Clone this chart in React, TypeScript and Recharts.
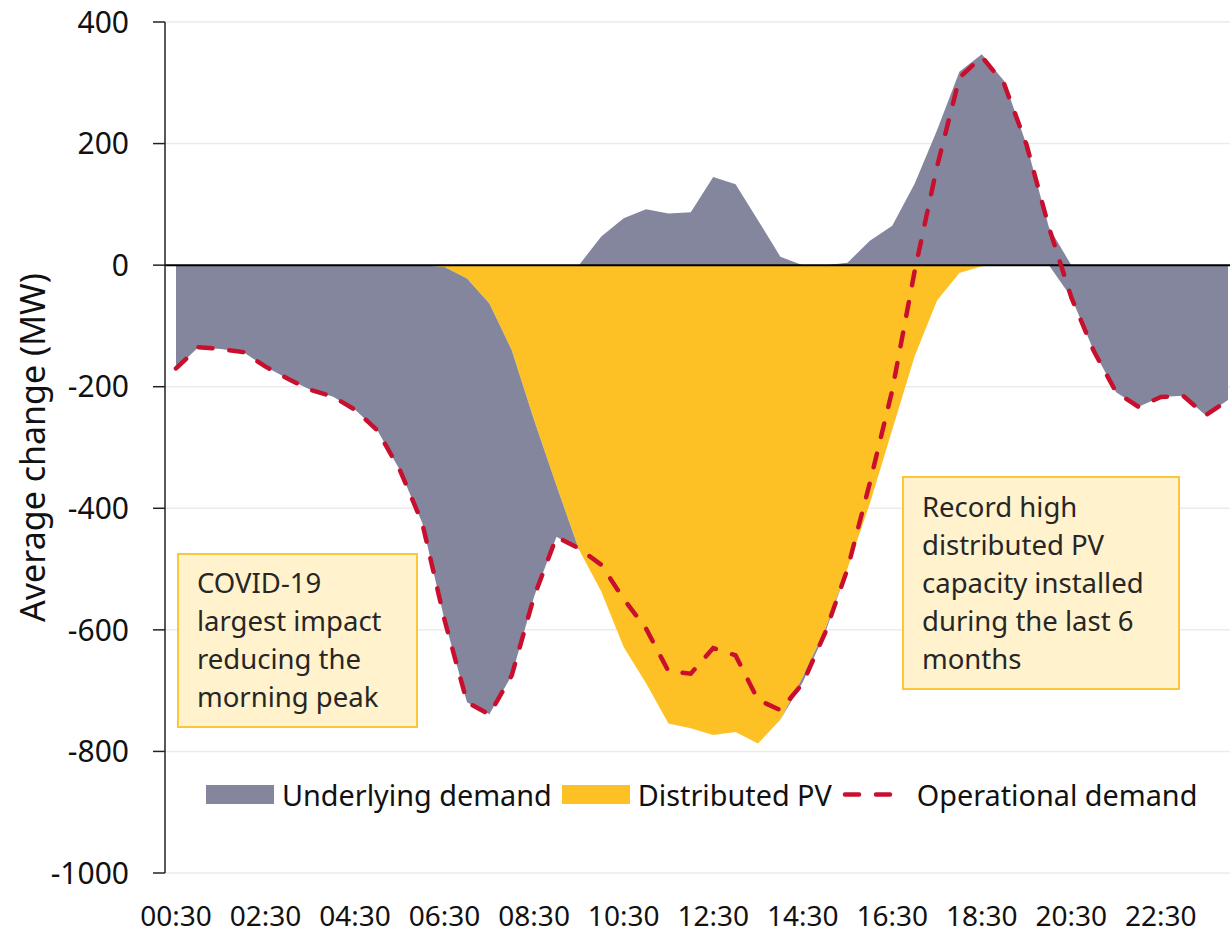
import {
  Area,
  CartesianGrid,
  ComposedChart,
  Legend,
  Line,
  ReferenceLine,
  XAxis,
  YAxis,
} from "recharts";

const times = [
  "00:30", "01:00", "01:30", "02:00", "02:30", "03:00", "03:30", "04:00",
  "04:30", "05:00", "05:30", "06:00", "06:30", "07:00", "07:30", "08:00",
  "08:30", "09:00", "09:30", "10:00", "10:30", "11:00", "11:30", "12:00",
  "12:30", "13:00", "13:30", "14:00", "14:30", "15:00", "15:30", "16:00",
  "16:30", "17:00", "17:30", "18:00", "18:30", "19:00", "19:30", "20:00",
  "20:30", "21:00", "21:30", "22:00", "22:30", "23:00", "23:30", "24:00",
];

// average change vs same period last year, MW
const underlying = [
  -170, -135, -138, -143, -167, -187, -205, -216, -238, -272,
  -337, -424, -581, -697, -676, -535, -290, -84, 0, 47,
  77, 92, 85, 87, 145, 133, 74, 14, -8, -5,
  4, 40, 65, 134, 222, 318, 347, 303, 198, 62,
  -53, -141, -209, -233, -217, -215, -247, -222,
];

const distributedPv = [
  0, 0, 0, 0, 0, 0, 0, 0, 0, 0,
  0, 0, -3, -22, -63, -140, -255, -363, -468, -537,
  -628, -688, -754, -762, -773, -768, -787, -748, -678, -600,
  -499, -392, -271, -150, -58, -13, -2, 0, 0, 0,
  0, 0, 0, 0, 0, 0, 0, 0,
];

const operational = [
  -170, -135, -138, -143, -167, -187, -205, -216, -238, -272,
  -337, -424, -584, -719, -739, -675, -545, -447, -466, -493,
  -549, -598, -668, -672, -630, -642, -715, -732, -688, -605,
  -500, -358, -206, -10, 162, 308, 343, 298, 198, 62,
  -53, -141, -209, -233, -217, -215, -247, -222,
];

const yTicks = [-1000, -800, -600, -400, -200, 0, 200, 400];

const FONT = "'Noto Sans', 'Open Sans', sans-serif";
const GREY = "#83869c";
const GOLD = "#fec125";
const RED = "#c8102e";

// negative values sit below the PV band, positive ones above zero
const data = times.map((t, i) => {
  const u = underlying[i];
  const p = distributedPv[i];
  return {
    t,
    pvBand: [p, 0],
    underNeg: u < 0 ? [p + u, p] : [p, p],
    underPos: u > 0 ? [0, u] : [0, 0],
    op: operational[i],
  };
});

function LegendRow() {
  const swatch = { width: 68, height: 19, display: "inline-block", marginRight: 8 };
  return (
    <div
      style={{
        display: "flex",
        alignItems: "center",
        fontFamily: FONT,
        fontSize: 28.8,
        color: "#111",
        whiteSpace: "nowrap",
      }}
    >
      <span style={{ ...swatch, background: GREY }} />
      <span style={{ marginRight: 10 }}>Underlying demand</span>
      <span style={{ ...swatch, background: GOLD }} />
      <span style={{ marginRight: 10 }}>Distributed PV</span>
      <svg width={62} height={19} style={{ marginRight: 13 }}>
        <line
          x1={3}
          y1={9.5}
          x2={60}
          y2={9.5}
          stroke={RED}
          strokeWidth={4.5}
          strokeDasharray="14 17"
          strokeLinecap="round"
        />
      </svg>
      <span>Operational demand</span>
    </div>
  );
}

const noteBox = {
  position: "absolute" as const,
  boxSizing: "border-box" as const,
  background: "#fff2cc",
  border: "2px solid #fcc63a",
  fontFamily: FONT,
  fontSize: 27.5,
  lineHeight: "38px",
  color: "#262626",
  whiteSpace: "pre" as const,
};

export default function App() {
  return (
    <div style={{ position: "absolute", left: 0, top: 0, width: 1232, height: 936, background: "#fff" }}>
      <ComposedChart
        width={1232}
        height={936}
        data={data}
        margin={{ top: 22, right: 2, bottom: 0, left: 0 }}
      >
        <CartesianGrid stroke="#ebebeb" strokeWidth={1.5} vertical={false} />
        <XAxis
          dataKey="t"
          scale="point"
          padding={{ left: 11, right: 2 }}
          interval={3}
          height={63}
          axisLine={false}
          tickLine={false}
          tickMargin={27}
          tick={{ fill: "#111", fontSize: 28, fontFamily: FONT }}
        />
        <YAxis
          domain={[-1000, 400]}
          ticks={yTicks}
          width={165}
          axisLine={{ stroke: "#222", strokeWidth: 1.5 }}
          tickLine={{ stroke: "#222", strokeWidth: 1.5 }}
          tickSize={12}
          tickMargin={24}
          tick={{ fill: "#111", fontSize: 30, fontFamily: FONT }}
          label={{
            value: "Average change (MW)",
            angle: -90,
            position: "center",
            dx: -50,
            style: { fill: "#111", fontSize: 34, fontFamily: FONT, textAnchor: "middle" },
          }}
        />
        <Area
          dataKey="pvBand"
          type="linear"
          fill={GOLD}
          fillOpacity={1}
          stroke="none"
          dot={false}
          activeDot={false}
          isAnimationActive={false}
        />
        <Area
          dataKey="underNeg"
          type="linear"
          fill={GREY}
          fillOpacity={1}
          stroke="none"
          dot={false}
          activeDot={false}
          isAnimationActive={false}
        />
        <Area
          dataKey="underPos"
          type="linear"
          fill={GREY}
          fillOpacity={1}
          stroke="none"
          dot={false}
          activeDot={false}
          isAnimationActive={false}
        />
        <ReferenceLine y={0} stroke="#000" strokeWidth={2} />
        <Line
          dataKey="op"
          type="linear"
          stroke={RED}
          strokeWidth={4.5}
          strokeDasharray="14 17"
          strokeLinecap="round"
          dot={false}
          activeDot={false}
          isAnimationActive={false}
        />
        <Legend
          layout="vertical"
          verticalAlign="middle"
          align="center"
          wrapperStyle={{ left: 206, top: 775, width: 1020 }}
          content={() => <LegendRow />}
        />
      </ComposedChart>
      <div style={{ ...noteBox, left: 177, top: 553, width: 241, height: 175, padding: "9px 0 0 18px" }}>
        {"COVID-19\nlargest impact\nreducing the\nmorning peak"}
      </div>
      <div style={{ ...noteBox, left: 902, top: 476, width: 278, height: 214, padding: "10px 0 0 18px" }}>
        {"Record high\ndistributed PV\ncapacity installed\nduring the last 6\nmonths"}
      </div>
    </div>
  );
}
